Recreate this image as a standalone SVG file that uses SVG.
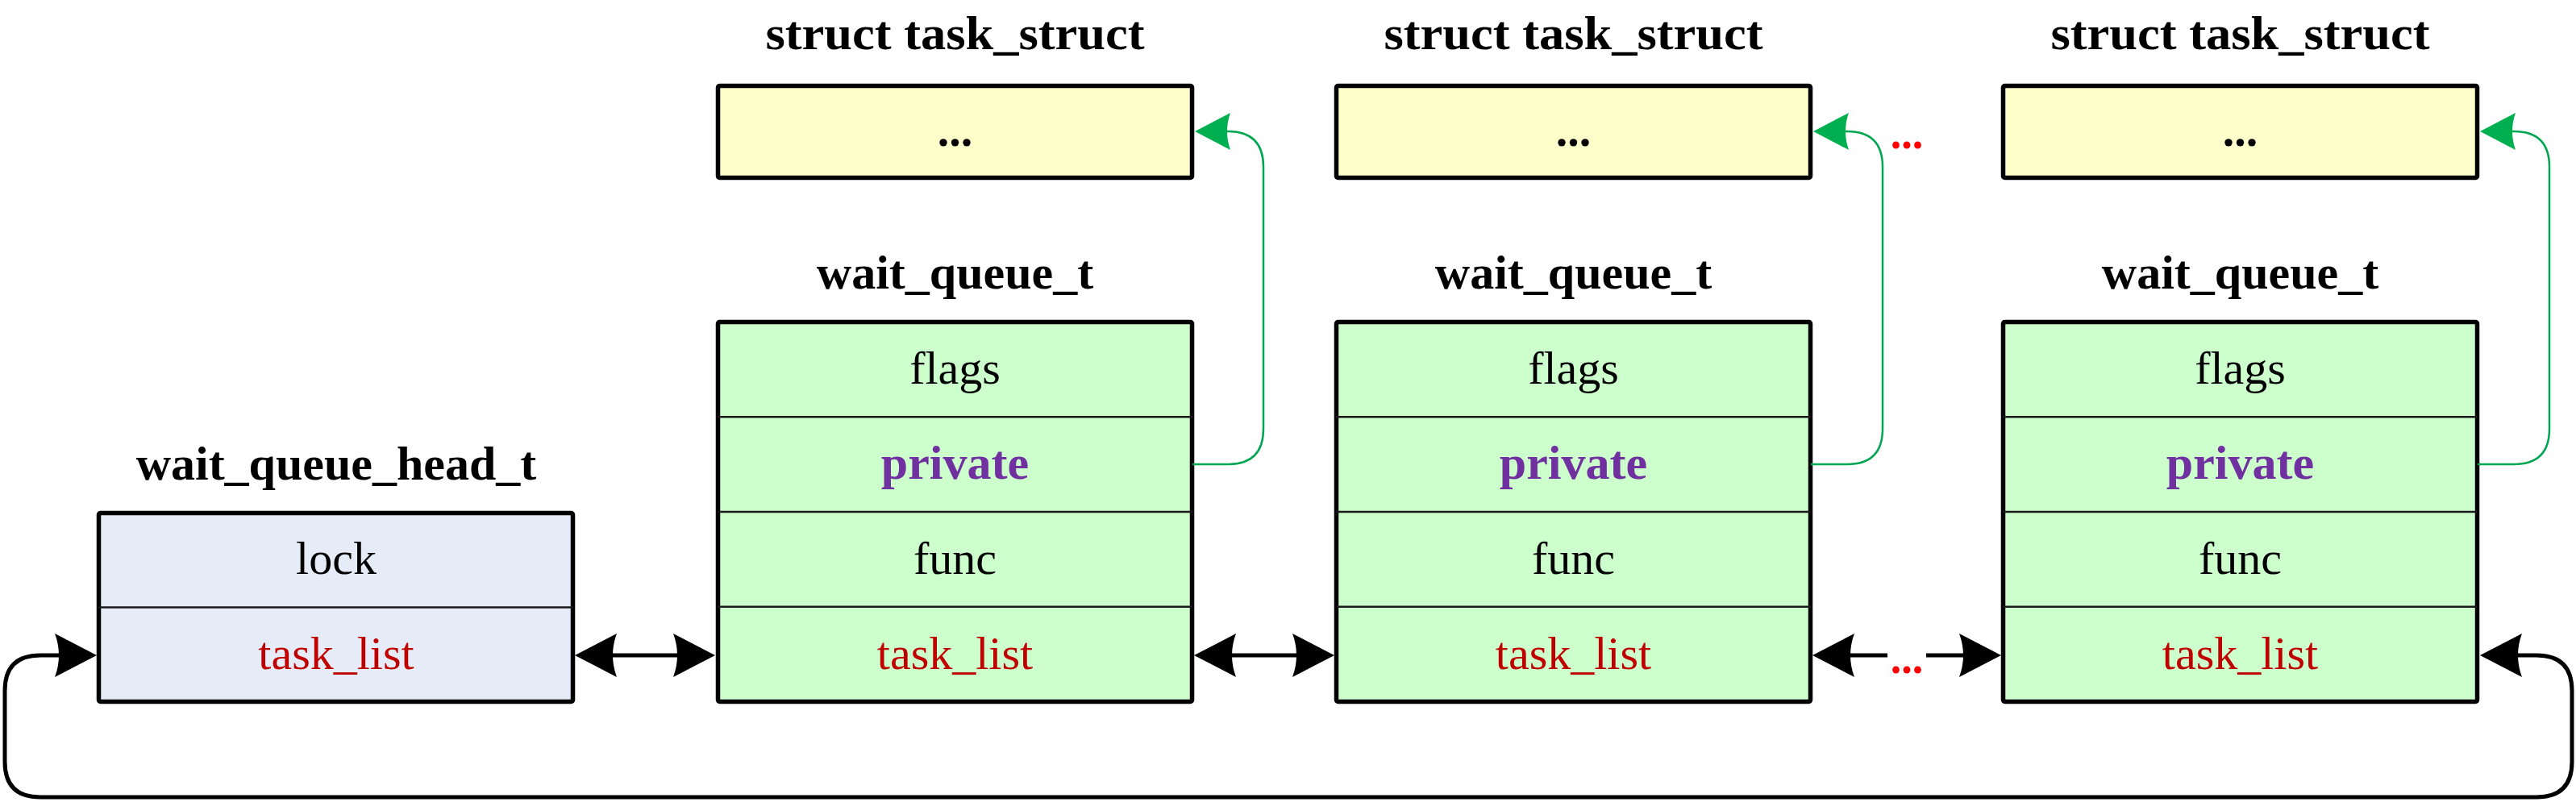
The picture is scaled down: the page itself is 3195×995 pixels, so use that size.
<svg xmlns="http://www.w3.org/2000/svg" width="3195" height="995" viewBox="0 0 3195 995">
<style>
.box{stroke:#000;stroke-width:5.5;stroke-linejoin:round}
.head{fill:#E6ECF7}
.wq{fill:#CCFFCC}
.task{fill:#FFFFCC}
.div{stroke:#1a1a1a;stroke-width:2.5}
text{font-family:"Liberation Serif","Times New Roman",serif;text-anchor:middle}
.title{font-size:60px;font-weight:bold;fill:#000}
.fld{font-size:58px;fill:#000}
.tl{font-size:58px;fill:#C00000}
.priv{font-size:60px;font-weight:bold;fill:#7030A0}
.dots{font-size:58px;font-weight:bold;fill:#000}
.rdots{font-size:54px;font-weight:bold;fill:#FF0000}
.blk{fill:none;stroke:#000;stroke-width:5}
.grn{fill:none;stroke:#00A651;stroke-width:2.5}
</style>
<defs>
<marker id="ab" markerUnits="userSpaceOnUse" viewBox="-2 -30 58 60" refX="8" refY="0" markerWidth="58" markerHeight="60" orient="auto-start-reverse">
<path d="M0,-27 Q10,0 0,27 L52,0 Z" fill="#000"/>
</marker>
<marker id="ag" markerUnits="userSpaceOnUse" viewBox="-2 -26 50 52" refX="6" refY="0" markerWidth="50" markerHeight="52" orient="auto">
<path d="M0,-23 Q8,0 0,23 L44,0 Z" fill="#00B050"/>
</marker>
</defs>

<g id="head">
<text class="title" x="417" y="595">wait_queue_head_t</text>
<rect class="box head" x="122.5" y="636.5" width="588" height="234" rx="2"/>
<line class="div" x1="122.5" y1="753.5" x2="710.5" y2="753.5"/>
<text class="fld" x="417" y="712">lock</text>
<text class="tl" x="417" y="830">task_list</text>
</g>

<g id="task1">
<text class="title" x="1184.5" y="61" textLength="470" lengthAdjust="spacingAndGlyphs">struct task_struct</text>
<rect class="box task" x="890.5" y="106.5" width="588" height="114" rx="2"/>
<text class="dots" x="1184.5" y="181">...</text>
</g>
<g id="task2">
<text class="title" x="1951.5" y="61" textLength="470" lengthAdjust="spacingAndGlyphs">struct task_struct</text>
<rect class="box task" x="1657.5" y="106.5" width="588" height="114" rx="2"/>
<text class="dots" x="1951.5" y="181">...</text>
</g>
<g id="task3">
<text class="title" x="2778.5" y="61" textLength="470" lengthAdjust="spacingAndGlyphs">struct task_struct</text>
<rect class="box task" x="2484.5" y="106.5" width="588" height="114" rx="2"/>
<text class="dots" x="2778.5" y="181">...</text>
</g>

<g id="wq1">
<text class="title" x="1184.5" y="358">wait_queue_t</text>
<rect class="box wq" x="890.5" y="399.5" width="588" height="471" rx="2"/>
<line class="div" x1="890.5" y1="517.25" x2="1478.5" y2="517.25"/>
<line class="div" x1="890.5" y1="635" x2="1478.5" y2="635"/>
<line class="div" x1="890.5" y1="752.75" x2="1478.5" y2="752.75"/>
<text class="fld" x="1184.5" y="476">flags</text>
<text class="priv" x="1184.5" y="594">private</text>
<text class="fld" x="1184.5" y="712">func</text>
<text class="tl" x="1184.5" y="830">task_list</text>
</g>
<g id="wq2">
<text class="title" x="1951.5" y="358">wait_queue_t</text>
<rect class="box wq" x="1657.5" y="399.5" width="588" height="471" rx="2"/>
<line class="div" x1="1657.5" y1="517.25" x2="2245.5" y2="517.25"/>
<line class="div" x1="1657.5" y1="635" x2="2245.5" y2="635"/>
<line class="div" x1="1657.5" y1="752.75" x2="2245.5" y2="752.75"/>
<text class="fld" x="1951.5" y="476">flags</text>
<text class="priv" x="1951.5" y="594">private</text>
<text class="fld" x="1951.5" y="712">func</text>
<text class="tl" x="1951.5" y="830">task_list</text>
</g>
<g id="wq3">
<text class="title" x="2778.5" y="358">wait_queue_t</text>
<rect class="box wq" x="2484.5" y="399.5" width="588" height="471" rx="2"/>
<line class="div" x1="2484.5" y1="517.25" x2="3072.5" y2="517.25"/>
<line class="div" x1="2484.5" y1="635" x2="3072.5" y2="635"/>
<line class="div" x1="2484.5" y1="752.75" x2="3072.5" y2="752.75"/>
<text class="fld" x="2778.5" y="476">flags</text>
<text class="priv" x="2778.5" y="594">private</text>
<text class="fld" x="2778.5" y="712">func</text>
<text class="tl" x="2778.5" y="830">task_list</text>
</g>

<g id="connectors">
<path class="blk" d="M757,813 H843" marker-start="url(#ab)" marker-end="url(#ab)"/>
<path class="blk" d="M1525,813 H1611" marker-start="url(#ab)" marker-end="url(#ab)"/>
<path class="blk" d="M2292,813 H2341" marker-start="url(#ab)"/>
<path class="blk" d="M2389,813 H2438" marker-end="url(#ab)"/>
<text class="rdots" x="2365" y="835">...</text>
<path class="blk" d="M3120,813 H3146 Q3190,813 3190,857 V945 Q3190,989 3146,989 H50 Q6,989 6,945 V857 Q6,813 50,813 H76" marker-start="url(#ab)" marker-end="url(#ab)"/>
<path class="grn" d="M1479,576 H1523 Q1567,576 1567,532 V207 Q1567,163 1523,163 L1520,163" marker-end="url(#ag)"/>
<path class="grn" d="M2246,576 H2291 Q2335,576 2335,532 V207 Q2335,163 2291,163 L2287,163" marker-end="url(#ag)"/>
<path class="grn" d="M3073,576 H3118 Q3162,576 3162,532 V207 Q3162,163 3118,163 L3114,163" marker-end="url(#ag)"/>
<text class="rdots" x="2365" y="184">...</text>
</g>
</svg>
